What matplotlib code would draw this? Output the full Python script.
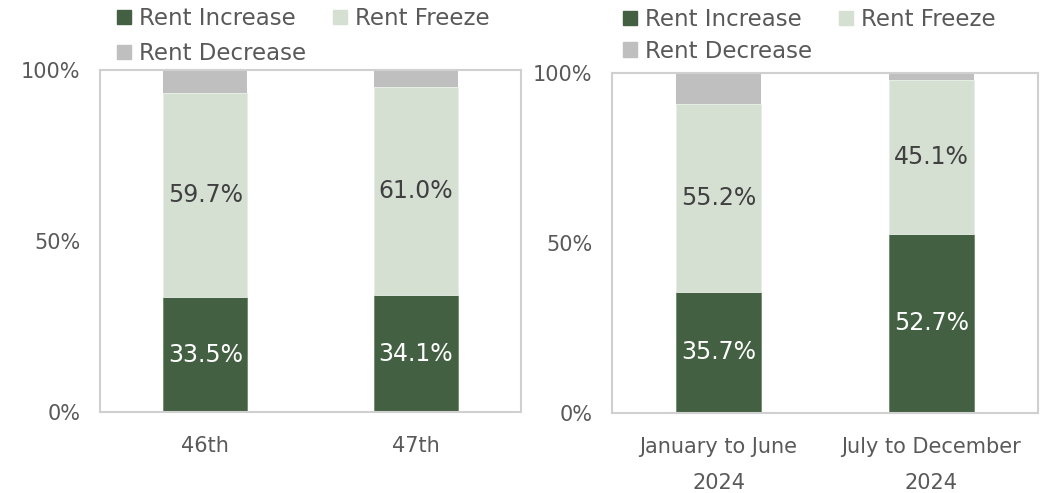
import matplotlib
matplotlib.use("Agg")
from matplotlib import pyplot as plt
from matplotlib.patches import Patch
from matplotlib.ticker import PercentFormatter

# data
left_categories = ["46th", "47th"]
left_increase = [33.5, 34.1]
left_freeze = [59.7, 61.0]
left_decrease = [6.8, 4.9]

right_categories = ["January to June\n2024", "July to December\n2024"]
right_increase = [35.7, 52.7]
right_freeze = [55.2, 45.1]
right_decrease = [9.1, 2.2]

series_names = ["Rent Increase", "Rent Freeze", "Rent Decrease"]
colors = ["#446042", "#d5e0d3", "#bfbfbf"]
text_col = "#595959"

plt.rcParams["font.family"] = ["DejaVu Sans"]

fig = plt.figure(figsize=(10.41, 4.93), dpi=100)
W, H = 1041, 493


def px_axes(x0, y0, x1, y1):
    return fig.add_axes([x0 / W, 1 - y1 / H, (x1 - x0) / W, (y1 - y0) / H])


def draw_panel(ax, cats, inc, frz, dec):
    x = range(len(cats))
    b1 = ax.bar(x, inc, width=0.4, color=colors[0], edgecolor="#6f8a6c", linewidth=0.6)
    bottoms = [a for a in inc]
    b2 = ax.bar(x, frz, width=0.4, bottom=bottoms, color=colors[1], edgecolor="#e6ede5", linewidth=0.6)
    bottoms2 = [a + b for a, b in zip(inc, frz)]
    ax.bar(x, dec, width=0.4, bottom=bottoms2, color=colors[2], linewidth=0)

    ax.bar_label(b1, labels=[f"{v:.1f}%" for v in inc], label_type="center",
                 color="white", fontsize=17)
    ax.bar_label(b2, labels=[f"{v:.1f}%" for v in frz], label_type="center",
                 color="#404040", fontsize=17)

    ax.set_xlim(-0.5, len(cats) - 0.5)
    ax.set_ylim(0, 100)
    ax.set_yticks([0, 50, 100])
    ax.yaxis.set_major_formatter(PercentFormatter(decimals=0))
    ax.set_xticks(list(x))
    ax.set_xticklabels(cats, linespacing=2.0)
    ax.tick_params(axis="both", length=0, labelsize=15, colors=text_col)
    ax.tick_params(axis="y", pad=14)
    ax.tick_params(axis="x", pad=17)
    for s in ax.spines.values():
        s.set_color("#d0d0d0")
        s.set_linewidth(1.5)


ax1 = px_axes(100, 70, 521, 412)
draw_panel(ax1, left_categories, left_increase, left_freeze, left_decrease)

ax2 = px_axes(612, 73, 1038, 413)
draw_panel(ax2, right_categories, right_increase, right_freeze, right_decrease)

# legends, row-wise order: Inc, Freeze / Dec
handles = [Patch(color=colors[0]), Patch(color=colors[2]), Patch(color=colors[1])]
labels = [series_names[0], series_names[2], series_names[1]]
for x0, y0, spacing in [(117, 7, 0.52), (623, 8, 0.38)]:
    fig.legend(handles, labels, ncol=2, loc="upper left",
               bbox_to_anchor=(x0 / W, 1 - y0 / H), frameon=False,
               fontsize=16.5, labelcolor=text_col, borderpad=0, borderaxespad=0,
               handlelength=0.6, handleheight=0.6, handletextpad=0.35,
               columnspacing=1.2, labelspacing=spacing)

fig.savefig("out.png", dpi=100)
